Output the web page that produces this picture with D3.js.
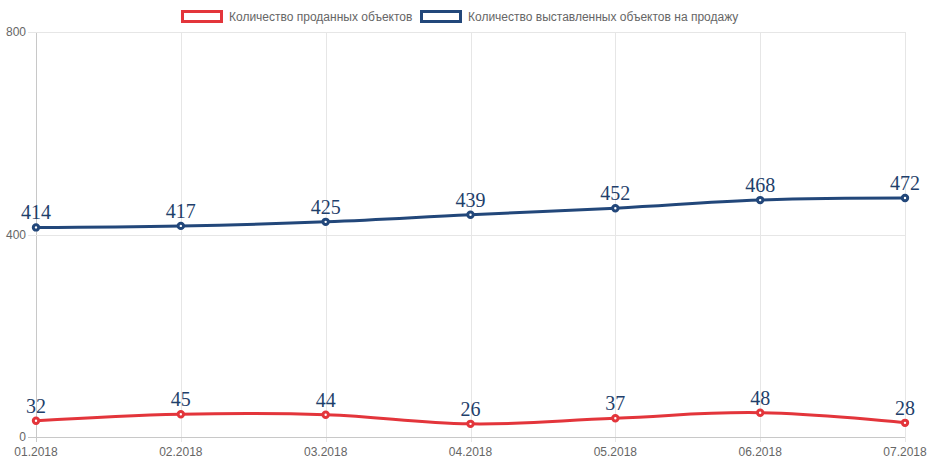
<!DOCTYPE html>
<html>
<head>
<meta charset="utf-8">
<script src="https://cdn.jsdelivr.net/npm/d3@7"></script>
<style>
  body { margin: 0; background: #fff; }
  text { font-family: "Liberation Sans", Arial, sans-serif; }
  text.valore { font-family: "Liberation Serif", "Times New Roman", serif; }
</style>
</head>
<body>
<script>
// dati
var months = ["01.2018", "02.2018", "03.2018", "04.2018", "05.2018", "06.2018", "07.2018"];
var sold = [32, 45, 44, 26, 37, 48, 28];
var listed = [414, 417, 425, 439, 452, 468, 472];
var yTicks = [0, 400, 800];
var seriesNames = ["Количество проданных объектов", "Количество выставленных объектов на продажу"];

var w = 930, h = 465;
var padLeft = 36, padRight = 905, padTop = 32, padBottom = 437;
var red = "#e3353b", blue = "#22477a";

var svg = d3.select("body").append("svg")
    .attr("width", w)
    .attr("height", h);

var x = d3.scalePoint().domain(months).range([padLeft, padRight]);
var y = d3.scaleLinear().domain([0, 800]).range([padBottom, padTop]);

// griglia verticale
svg.append("g").selectAll("line")
    .data(months)
    .enter().append("line")
    .attr("x1", d => Math.round(x(d)) + 0.5).attr("x2", d => Math.round(x(d)) + 0.5)
    .attr("y1", padTop).attr("y2", padBottom + 5)
    .attr("stroke", d => d === months[0] ? "#c8c8c8" : "#e6e6e6")
    .attr("stroke-width", 1);

// griglia orizzontale
svg.append("g").selectAll("line")
    .data(yTicks)
    .enter().append("line")
    .attr("x1", padLeft - 8).attr("x2", padRight)
    .attr("y1", d => Math.round(y(d)) + 0.5).attr("y2", d => Math.round(y(d)) + 0.5)
    .attr("stroke", d => d === 0 ? "#c8c8c8" : "#e6e6e6")
    .attr("stroke-width", 1);

// etichette asse y
svg.append("g").selectAll("text")
    .data(yTicks)
    .enter().append("text")
    .attr("x", padLeft - 10)
    .attr("y", d => y(d) + 4)
    .attr("text-anchor", "end")
    .attr("font-size", 12)
    .attr("fill", "#666")
    .text(d => d);

// etichette asse x
svg.append("g").selectAll("text")
    .data(months)
    .enter().append("text")
    .attr("x", d => x(d))
    .attr("y", padBottom + 19)
    .attr("text-anchor", "middle")
    .attr("font-size", 12)
    .attr("fill", "#666")
    .text(d => d);

var line = d3.line()
    .x((d, i) => x(months[i]))
    .y(d => y(d))
    .curve(d3.curveCardinal.tension(-0.2));

function plotSeries(values, color) {
    svg.append("path")
        .datum(values)
        .attr("d", line)
        .attr("fill", "none")
        .attr("stroke", color)
        .attr("stroke-width", 3);

    svg.append("g").selectAll("circle")
        .data(values)
        .enter().append("circle")
        .attr("cx", (d, i) => x(months[i]))
        .attr("cy", d => y(d))
        .attr("r", 2.7)
        .attr("fill", "#fff")
        .attr("stroke", color)
        .attr("stroke-width", 3);

    svg.append("g").selectAll("text")
        .data(values)
        .enter().append("text")
        .attr("class", "valore")
        .attr("x", (d, i) => x(months[i]))
        .attr("y", d => y(d) - 8)
        .attr("text-anchor", "middle")
        .attr("font-size", 20)
        .attr("fill", "#1f3f6b")
        .text(d => d);
}

plotSeries(sold, red);
plotSeries(listed, blue);

// legenda
var legend = [
    {name: seriesNames[0], color: red, bx: 182.5},
    {name: seriesNames[1], color: blue, bx: 421.5}
];
legend.forEach(function(l) {
    svg.append("rect")
        .attr("x", l.bx).attr("y", 11.5)
        .attr("width", 39).attr("height", 10)
        .attr("fill", "#fff")
        .attr("stroke", l.color)
        .attr("stroke-width", 3);
    svg.append("text")
        .attr("x", l.bx + 46.5)
        .attr("y", 21)
        .attr("font-size", 12)
        .attr("fill", "#666")
        .text(l.name);
});
</script>
</body>
</html>
